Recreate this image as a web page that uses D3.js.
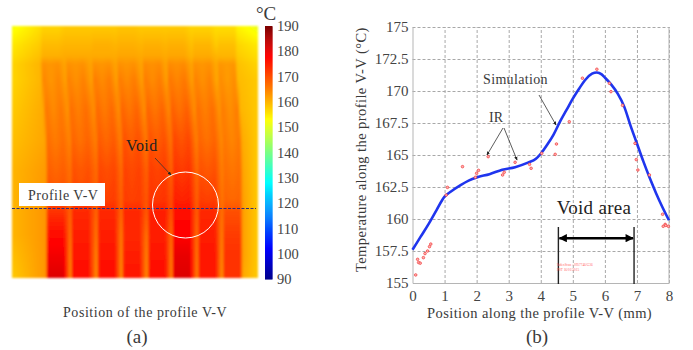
<!DOCTYPE html>
<html>
<head>
<meta charset="utf-8">
<script src="https://cdn.jsdelivr.net/npm/d3@7"></script>
<style>
  body { margin: 0; background: #fff; }
  text { font-family: "Liberation Serif", serif; fill: #3a3a3a; }
  .axis .domain { stroke: #b5b5b5; }
  .grid line { stroke: #a8a8a8; stroke-dasharray: 3 2; }
  .grid .domain { display: none; }
</style>
</head>
<body>
<svg id="fig" width="693" height="350"></svg>
<script>
// (b) temperature along the profile
var simX = [0, 0.25, 0.5, 0.75, 1, 1.2, 1.5, 1.75, 2, 2.4, 2.8, 3.2, 3.6, 3.85, 4, 4.2, 4.4, 4.6, 4.8, 5, 5.2, 5.4, 5.6, 5.75, 5.9, 6, 6.2, 6.4, 6.6, 6.8, 7, 7.2, 7.4, 7.6, 7.8, 8];
var simT = [157.6, 158.6, 159.6, 160.7, 161.75, 162.15, 162.65, 163, 163.25, 163.5, 163.85, 164.05, 164.4, 164.7, 165.1, 165.8, 166.6, 167.6, 168.5, 169.4, 170.2, 170.9, 171.35, 171.45, 171.3, 171.05, 170.5, 169.8, 168.8, 167.3, 165.9, 164.5, 163.2, 162, 160.9, 159.9];
var irX = [0.1, 0.16, 0.19, 0.24, 0.34, 0.39, 0.47, 0.53, 0.57, 1.05, 1.09, 1.56, 1.96, 2, 2.06, 2.36, 2.81, 2.86, 3.2, 3.65, 3.7, 4.03, 4.45, 4.49, 4.89, 5.3, 5.75, 6.14, 6.19, 6.55, 6.94, 6.98, 7.03, 7.39, 7.8, 7.82, 7.88, 7.9, 7.98];
var irT = [155.63, 156.85, 156.6, 156.55, 156.98, 157.3, 157.5, 157.84, 158.04, 161.87, 162.47, 164.09, 163.26, 163.57, 163.8, 164.87, 163.44, 163.65, 164.43, 164.27, 163.96, 165.13, 165.05, 165.86, 167.6, 171, 171.7, 170.6, 169.95, 168.88, 165.91, 164.64, 163.83, 163.44, 160.37, 159.43, 159.58, 159.5, 159.43];
var xTicks = [0, 1, 2, 3, 4, 5, 6, 7, 8];
var yTicks = [155, 157.5, 160, 162.5, 165, 167.5, 170, 172.5, 175];
var voidEdges = [4.55, 6.91];

// (a) thermal image, temperatures read at the fingers and the gaps for each depth (mm)
var barTicks = [90, 100, 110, 120, 130, 140, 150, 160, 170, 180, 190];
var barTemps = [90, 102, 128, 153, 165, 178, 190];
var barColors = ["#00008c", "#0000ff", "#00ffff", "#ffff00", "#ff8000", "#ff0000", "#7a0000"];
var fingerCentres = [1.43, 2.24, 3.09, 3.9, 4.73, 5.53, 6.36, 7.17];
var heatDepths = [0, 0.62, 0.98, 1.24, 1.76, 2.73, 3.71, 4.69, 5.66, 6.05, 6.8, 7.45, 8.2];
var heatShift = [-0.18, -0.18, -0.18, -0.18, -0.16, -0.08, -0.02, 0, 0, 0, 0, 0, 0];
var centreDip = [0, 0, 0, 0.6, 1.6, 2, 1.6, 1, 0.5, 0, 0, 0, 0];
var leftEdge = [152, 155, 156, 157, 157, 158, 159, 160, 160, 160, 160, 159, 158];
var rightEdge = [151, 155, 156, 157, 158, 158, 158, 158, 158, 158, 158, 158, 158];
var fingerTemps = [
  [157, 158, 158, 158.5, 158, 158, 157, 156],
  [159.5, 160, 160.5, 160.5, 160.5, 160.5, 160, 159],
  [160.5, 161, 161, 161.5, 161.5, 161.5, 161, 160],
  [163.5, 163.5, 163.5, 163.5, 164, 164, 163.5, 163],
  [164.5, 165, 165.5, 165.5, 165.5, 166, 165, 164],
  [166, 167, 167.5, 168, 168, 168.5, 167, 165.5],
  [167, 168, 169, 170, 170, 171, 168, 166],
  [168.5, 170, 171, 171.5, 172, 173, 170, 167],
  [170, 171, 172, 172, 173, 175, 172, 168],
  [173, 174, 174, 174, 175, 177, 174, 170],
  [177, 175, 175, 174, 175, 178, 175, 172],
  [179, 176, 176, 175, 176, 180, 176, 173],
  [181, 177, 177, 176, 177, 181, 176, 173]
];
var gapTemps = [
  [156, 158, 158, 158, 158, 158, 157, 156, 154],
  [158, 160, 160, 160, 160, 160, 159, 158, 157],
  [159, 161, 161, 161, 161, 161, 160, 160, 158],
  [160, 161.5, 161.5, 161.5, 161.5, 161.5, 161.5, 161, 159],
  [160, 162, 162, 162, 162, 162, 162, 161, 159.5],
  [161, 163, 163.5, 163.5, 163.5, 164, 163.5, 163, 160],
  [161.5, 164.5, 165, 165, 165.5, 166, 165, 164, 161],
  [162.5, 166.5, 167, 167, 168, 168, 167, 165, 161.5],
  [163, 167.5, 168, 168, 169, 170, 168, 166, 162],
  [163, 168, 167.5, 167.5, 168.5, 169.5, 168, 166, 162],
  [163, 166.5, 166, 165.5, 166, 167, 166.5, 165, 162],
  [163, 165, 164.5, 164.5, 164.5, 165.5, 165.5, 164, 162],
  [163, 164, 163.5, 163.5, 163.5, 164.5, 164.5, 163, 161]
];

var svg = d3.select("#fig");
var defs = svg.append("defs");

var tempColor = d3.scaleLinear().domain(barTemps).range(barColors).clamp(true);

// one temperature profile across the image for a table row
function rowProfile(r) {
  var xs = [0], ts = [leftEdge[r]];
  fingerCentres.forEach(function (c, i) {
    var c2 = c + heatShift[r];
    xs.push(c2 - 0.34, c2 - 0.25, c2, c2 + 0.25);
    ts.push(gapTemps[r][i], fingerTemps[r][i], fingerTemps[r][i] - centreDip[r], fingerTemps[r][i]);
  });
  xs.push(fingerCentres[7] + heatShift[r] + 0.34, 8);
  ts.push(gapTemps[r][8], rightEdge[r]);
  return d3.scaleLinear().domain(xs).range(ts);
}

// ---- (a) thermal image ----
var imgW = 246, imgH = 252;
var heatX = d3.scaleLinear().domain([0, 8]).range([0, imgW]);
var heatY = d3.scaleLinear().domain([0, 8.2]).range([0, imgH]);
var profiles = heatDepths.map(function (d, r) { return rowProfile(r); });
var canvas = document.createElement("canvas");
canvas.width = imgW;
canvas.height = imgH;
var ctx = canvas.getContext("2d");
var bisect = d3.bisector(function (d) { return d; }).right;
for (var py = 0; py < imgH; py++) {
  var depth = heatY.invert(py + 0.5);
  var r1 = Math.min(bisect(heatDepths, depth), heatDepths.length - 1), r0 = r1 - 1;
  var f = (depth - heatDepths[r0]) / (heatDepths[r1] - heatDepths[r0]);
  for (var px = 0; px < imgW; px++) {
    var pos = heatX.invert(px + 0.5);
    ctx.fillStyle = tempColor(profiles[r0](pos) * (1 - f) + profiles[r1](pos) * f);
    ctx.fillRect(px, py, 1, 1);
  }
}
defs.append("filter").attr("id", "soft")
  .attr("x", "-2%").attr("y", "-2%").attr("width", "104%").attr("height", "104%")
  .append("feGaussianBlur").attr("stdDeviation", 1.1);
var left = svg.append("g").attr("transform", "translate(12,26)");
left.append("image")
  .attr("width", imgW).attr("height", imgH)
  .attr("href", canvas.toDataURL())
  .attr("filter", "url(#soft)");

// colour bar
var barY = d3.scaleLinear().domain([90, 190]).range([279, 26]);
svg.append("g").selectAll("rect")
  .data(d3.range(90, 190, 0.4))
  .join("rect")
  .attr("x", 265).attr("width", 7.5)
  .attr("y", function (d) { return barY(d + 0.4); })
  .attr("height", 1.6)
  .attr("fill", function (d) { return tempColor(d); });
var barAxis = svg.append("g")
  .attr("transform", "translate(272,0)")
  .call(d3.axisRight(barY).tickValues(barTicks).tickSize(0).tickPadding(5));
barAxis.select(".domain").remove();
barAxis.selectAll("text").style("font-family", "Liberation Serif").style("font-size", "14.5px").style("fill", "#444");
svg.append("text").attr("x", 256).attr("y", 20).style("font-size", "19px").text("°C");

// profile line, label and void mark
svg.append("line")
  .attr("x1", 12).attr("x2", 256).attr("y1", 208.5).attr("y2", 208.5)
  .attr("stroke", "#2b2b80").attr("stroke-width", 1.2).attr("stroke-dasharray", "3 1.5");
svg.append("rect").attr("x", 19).attr("y", 183).attr("width", 86).attr("height", 23).attr("fill", "#fff");
svg.append("text").attr("x", 28).attr("y", 200).style("font-size", "14px").style("letter-spacing", "0.5px").text("Profile V-V");
svg.append("circle").attr("cx", 185.5).attr("cy", 205).attr("r", 33)
  .attr("fill", "none").attr("stroke", "#fff").attr("stroke-width", 1);
svg.append("text").attr("x", 126).attr("y", 151).style("font-size", "16px").style("fill", "#222").style("letter-spacing", "0.4px").text("Void");

defs.append("marker").attr("id", "tip")
  .attr("viewBox", "0 0 6 6").attr("refX", 5).attr("refY", 3)
  .attr("markerWidth", 5).attr("markerHeight", 5).attr("orient", "auto")
  .append("path").attr("d", "M0,0.5L6,3L0,5.5Z").attr("fill", "#222");

function pointer(x1, y1, x2, y2) {
  svg.append("line")
    .attr("x1", x1).attr("y1", y1).attr("x2", x2).attr("y2", y2)
    .attr("stroke", "#333").attr("stroke-width", 0.8)
    .attr("marker-end", "url(#tip)");
}
pointer(155, 158, 171, 175);

svg.append("text").attr("x", 63).attr("y", 317).style("font-size", "14px").style("letter-spacing", "0.55px").text("Position of the profile V-V");
svg.append("text").attr("x", 137).attr("y", 343).attr("text-anchor", "middle").style("font-size", "19px").text("(a)");

// ---- (b) profile chart ----
var x = d3.scaleLinear().domain([0, 8]).range([412.5, 669]);
var y = d3.scaleLinear().domain([155, 175]).range([283, 27]);

svg.append("g").attr("class", "grid")
  .attr("transform", "translate(0,283)")
  .call(d3.axisBottom(x).tickValues(xTicks.slice(1)).tickSize(-256).tickFormat(""));
svg.append("g").attr("class", "grid")
  .attr("transform", "translate(412.5,0)")
  .call(d3.axisLeft(y).tickValues(yTicks.slice(1)).tickSize(-256.5).tickFormat(""));

var xAxis = svg.append("g").attr("class", "axis")
  .attr("transform", "translate(0,283)")
  .call(d3.axisBottom(x).tickValues(xTicks).tickSize(0).tickPadding(7));
var yAxis = svg.append("g").attr("class", "axis")
  .attr("transform", "translate(412.5,0)")
  .call(d3.axisLeft(y).tickValues(yTicks).tickSize(0).tickPadding(4).tickFormat(d3.format("")));
svg.selectAll(".axis text").style("font-family", "Liberation Serif").style("font-size", "15px").style("fill", "#444");
svg.append("path").attr("d", "M669,27V283").attr("stroke", "#b5b5b5").attr("fill", "none");

// void markers
voidEdges.forEach(function (v) {
  svg.append("line").attr("x1", x(v)).attr("x2", x(v)).attr("y1", 227).attr("y2", y(155) + 1)
    .attr("stroke", "#222").attr("stroke-width", 1.4);
});
defs.append("marker").attr("id", "bigTip")
  .attr("viewBox", "0 0 6 6").attr("refX", 5.5).attr("refY", 3)
  .attr("markerWidth", 4).attr("markerHeight", 3.4).attr("orient", "auto-start-reverse")
  .append("path").attr("d", "M0,0L6,3L0,6Z").attr("fill", "#000");
svg.append("line")
  .attr("x1", x(voidEdges[0]) + 1).attr("x2", x(voidEdges[1]) - 1)
  .attr("y1", y(158.5)).attr("y2", y(158.5))
  .attr("stroke", "#000").attr("stroke-width", 2.4)
  .attr("marker-start", "url(#bigTip)").attr("marker-end", "url(#bigTip)");
svg.append("text").attr("x", 594).attr("y", 214).attr("text-anchor", "middle")
  .style("font-size", "19px").style("fill", "#222").style("letter-spacing", "0.3px").text("Void area");
svg.append("text").attr("x", 557).attr("y", 266).style("font-size", "3.4px").style("fill", "#f66").text("IndexScan : 0957746/G36");
svg.append("text").attr("x", 557).attr("y", 271).style("font-size", "3.4px").style("fill", "#f66").text("PST 16/01/2015");

// simulation
svg.append("path")
  .attr("d", d3.line().x(function (d) { return x(d[0]); }).y(function (d) { return y(d[1]); })
    .curve(d3.curveMonotoneX)(d3.zip(simX, simT)))
  .attr("fill", "none").attr("stroke", "#1f35ee").attr("stroke-width", 2.6);

// IR readings
svg.append("g").selectAll("circle")
  .data(d3.zip(irX, irT))
  .join("circle")
  .attr("cx", function (d) { return x(d[0]); })
  .attr("cy", function (d) { return y(d[1]); })
  .attr("r", 1.3)
  .attr("fill", "#ffb0b0").attr("stroke", "#f03a3a").attr("stroke-width", 0.7);

// notes
svg.append("text").attr("x", 483).attr("y", 84).style("font-size", "14px").style("letter-spacing", "0.35px").text("Simulation");
svg.append("text").attr("x", 489).attr("y", 122).style("font-size", "14px").text("IR");
pointer(539, 95, 556, 125);
pointer(503, 128, 487, 155);
pointer(504, 128, 517, 160);

// axis titles
svg.append("text").attr("transform", "translate(366,272) rotate(-90)")
  .style("font-size", "14.5px").style("letter-spacing", "0.42px").text("Temperature along the profile V-V (°C)");
svg.append("text").attr("x", 427).attr("y", 318).style("font-size", "14.5px").style("letter-spacing", "0.42px").text("Position along the profile V-V (mm)");
svg.append("text").attr("x", 537).attr("y", 343).attr("text-anchor", "middle").style("font-size", "19px").text("(b)");
</script>
</body>
</html>
